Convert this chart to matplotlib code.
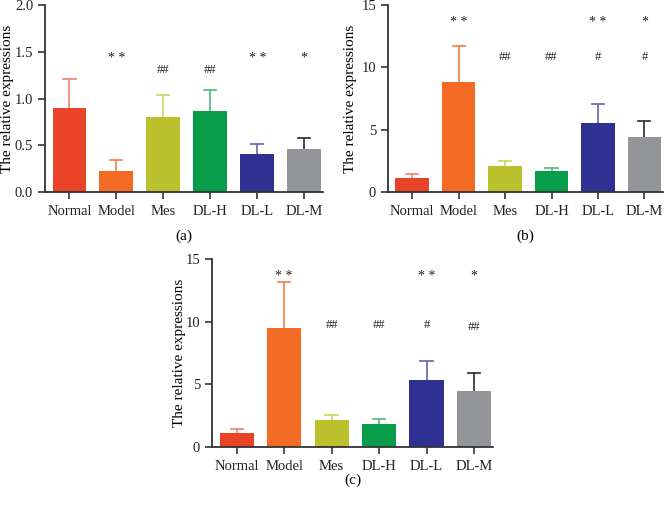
import matplotlib
matplotlib.use("Agg")
import matplotlib.pyplot as plt

plt.rcParams['font.family'] = ['Liberation Serif', 'DejaVu Serif']

categories = ["Normal", "Model", "Mes", "DL-H", "DL-L", "DL-M"]

vals_a = [0.90, 0.22, 0.80, 0.87, 0.41, 0.46]
top_a = [1.21, 0.34, 1.04, 1.09, 0.51, 0.58]
vals_b = [1.10, 8.85, 2.10, 1.65, 5.50, 4.40]
top_b = [1.42, 11.70, 2.50, 1.95, 7.05, 5.72]
vals_c = [1.10, 9.47, 2.15, 1.80, 5.35, 4.45]
top_c = [1.42, 13.13, 2.55, 2.20, 6.90, 5.93]

star_a = ["", "**", "", "", "**", "*"]
hash_a = ["", "", "##", "##", "", ""]
star_b = ["", "**", "", "", "**", "*"]
hash_b = ["", "", "##", "##", "#", "#"]
star_c = ["", "**", "", "", "**", "*"]
hash_c = ["", "", "##", "##", "#", "##"]

bar_colors = ["#E94428", "#F26A24", "#BAC12D", "#079D4B", "#2E3092", "#939598"]
err_colors = ["#F28B78", "#F4894E", "#D2D76A", "#5BBF88", "#6E70B3", "#3A3A3A"]

W, H = 670, 509
fig = plt.figure(figsize=(W / 100, H / 100), dpi=100)


def make_axes(l, r, t, b):
    return fig.add_axes([l / W, 1 - b / H, (r - l) / W, (b - t) / H])


def panel(ax, vals, tops, ymax, yticks, yticklabels, stars, hashes, star_y, hash_y,
          label, label_off_px, ylab_off_px, width_px, height_px):
    x = list(range(len(categories)))
    ax.bar(x, vals, width=0.72, color=bar_colors, zorder=2)
    for i in x:
        ax.plot([i, i], [vals[i], tops[i]], color=err_colors[i], lw=1.3, zorder=1)
        ax.plot([i - 0.13, i + 0.13], [tops[i], tops[i]], color=err_colors[i], lw=1.3, zorder=1)
    for i in x:
        if stars[i]:
            ax.text(i, star_y, " ".join(stars[i]), ha="center", va="center", fontsize=10, color="#222222")
        if hashes[i]:
            hy = hash_y[i] if isinstance(hash_y, list) else hash_y
            ax.text(i, hy, hashes[i], ha="center", va="center", fontsize=9, color="#222222")
    ax.set_xlim(-0.52, 5.4)
    ax.set_ylim(0, ymax)
    ax.set_yticks(yticks)
    ax.set_yticklabels(yticklabels, fontsize=10.5)
    ax.set_xticks(x)
    ax.set_xticklabels(categories, fontsize=10.5)
    ax.set_ylabel("The relative expressions", fontsize=11)
    ax.yaxis.set_label_coords(-ylab_off_px / width_px, 0.5)
    for s in ["top", "right"]:
        ax.spines[s].set_visible(False)
    for s in ["left", "bottom"]:
        ax.spines[s].set_linewidth(1.3)
        ax.spines[s].set_color("#333333")
    ax.tick_params(axis="both", direction="out", length=5, width=1.2, color="#333333", labelcolor="#222222")
    ax.tick_params(axis="x", pad=4)
    ax.text(0.5, -label_off_px / height_px, label, transform=ax.transAxes, ha="center", va="center", fontsize=11)


ax_a = make_axes(45, 323, 5, 192)
panel(ax_a, vals_a, top_a, 2.0, [0, 0.5, 1.0, 1.5, 2.0], ["0.0", "0.5", "1.0", "1.5", "2.0"],
      star_a, hash_a, 1.43, 1.30, "(a)", 44, 31, 278, 187)

ax_b = make_axes(388, 663, 5, 192)
panel(ax_b, vals_b, top_b, 15, [0, 5, 10, 15], ["0", "5", "10", "15"],
      star_b, hash_b, 13.6, 10.8, "(b)", 44, 31, 275, 187)

ax_c = make_axes(212, 493, 259, 447)
panel(ax_c, vals_c, top_c, 15, [0, 5, 10, 15], ["0", "5", "10", "15"],
      star_c, hash_c, 13.6, [0, 0, 9.75, 9.75, 9.75, 9.55], "(c)", 33, 26, 281, 188)

fig.savefig("out.png", dpi=100)
